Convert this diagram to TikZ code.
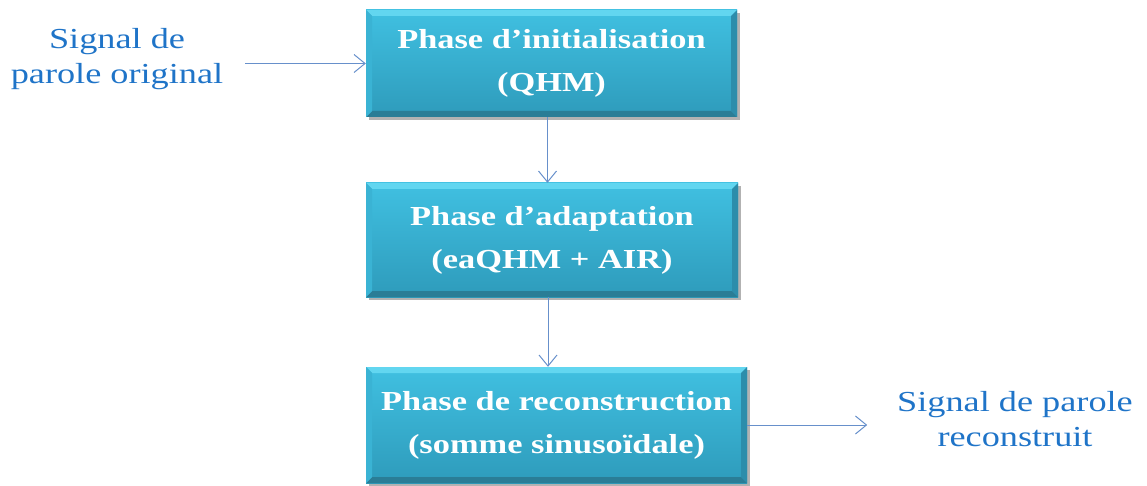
\documentclass[tikz,border=0pt]{standalone}
\usepackage{fontspec}
\setmainfont{Liberation Serif}[FakeStretch=1.25]
\usetikzlibrary{arrows.meta,shadows}

\definecolor{boxtop}{HTML}{40C0E1}
\definecolor{boxbot}{HTML}{2E9BBB}
\definecolor{bevlight}{HTML}{62D6F0}
\definecolor{bevdark}{HTML}{2A7D96}
\definecolor{bevside}{HTML}{3AB3D4}
\definecolor{bevside2}{HTML}{2C8DAB}
\definecolor{signalblue}{HTML}{1F74C8}
\definecolor{linkblue}{HTML}{6790CB}

\tikzset{
  phasebox/.style={
    rectangle, inner sep=0pt, align=center, text=white,
    font=\bfseries\fontsize{27.5}{43}\selectfont,
    top color=boxtop, bottom color=boxbot,
    drop shadow={shadow xshift=2.5pt, shadow yshift=-3pt, opacity=0.3, fill=black},
    path picture={
      \path (path picture bounding box.north west) coordinate (pNW)
            (path picture bounding box.north east) coordinate (pNE)
            (path picture bounding box.south east) coordinate (pSE)
            (path picture bounding box.south west) coordinate (pSW);
      \path ([shift={(6pt,-6pt)}]pNW) coordinate (iNW)
            ([shift={(-6pt,-6pt)}]pNE) coordinate (iNE)
            ([shift={(-6pt,6pt)}]pSE) coordinate (iSE)
            ([shift={(6pt,6pt)}]pSW) coordinate (iSW);
      \fill[bevlight] (pNW) -- (pNE) -- (iNE) -- (iNW) -- cycle;
      \fill[bevdark] (pSW) -- (pSE) -- (iSE) -- (iSW) -- cycle;
      \fill[bevside] (pNW) -- (iNW) -- (iSW) -- (pSW) -- cycle;
      \fill[bevside2] (pNE) -- (iNE) -- (iSE) -- (pSE) -- cycle;
    }
  },
  signaltext/.style={
    align=center, text=signalblue, inner sep=0pt,
    font=\fontsize{29}{35}\selectfont
  },
  link/.style={
    draw=linkblue, line width=1pt,
    -{Straight Barb[length=11pt,width=18pt]}
  }
}

\begin{document}
\begin{tikzpicture}[x=1pt,y=1pt]
  \useasboundingbox (0,0) rectangle (1147,485);

  % processing phases
  \node[phasebox, minimum width=371pt, minimum height=107pt] (b1) at (551.5,421.5)
    {Phase d’initialisation\\(QHM)};
  \node[phasebox, minimum width=372pt, minimum height=114pt] (b2) at (552,245)
    {Phase d’adaptation\\(eaQHM + AIR)};
  \node[phasebox, minimum width=381pt, minimum height=116pt] (b3) at (556.5,60)
    {Phase de reconstruction\\(somme sinusoïdale)};

  % input and output signals
  \node[signaltext, outer xsep=22pt] (sin) at (117,426) {Signal de\\parole original};
  \node[signaltext, outer xsep=30pt] (sout) at (1015,66) {Signal de parole\\reconstruit};

  % connectors
  \draw[link] (sin.east |- b1.west) -- (b1.west);
  \draw[link] ([xshift=-4pt]b1.south) -- ([xshift=-4pt]b1.south |- b2.north);
  \draw[link] ([xshift=-4pt]b2.south) -- ([xshift=-4pt]b2.south |- b3.north);
  \draw[link] (b3.east) -- (b3.east -| sout.west);
\end{tikzpicture}
\end{document}
